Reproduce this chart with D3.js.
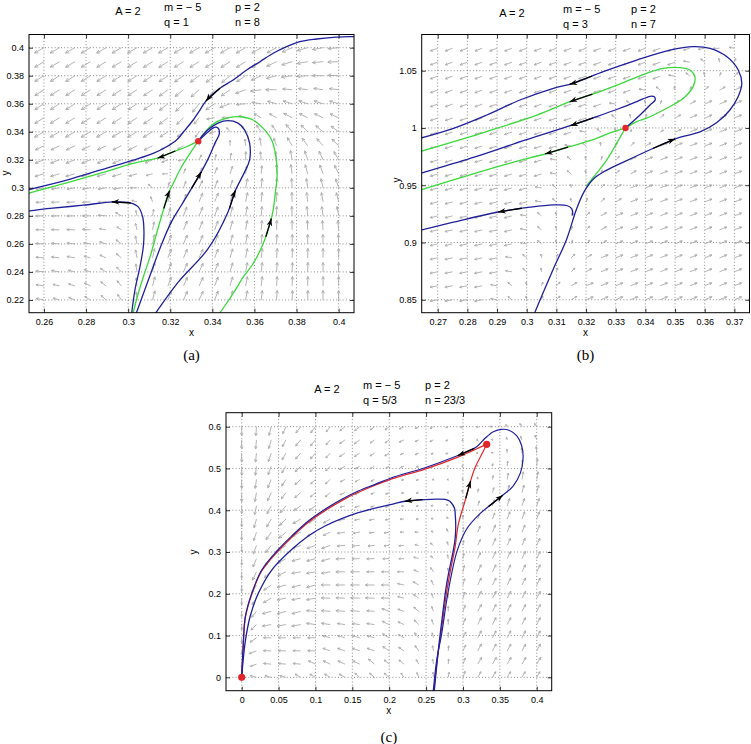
<!DOCTYPE html>
<html>
<head>
<meta charset="utf-8">
<script src="https://cdn.jsdelivr.net/npm/d3@7"></script>
<style>
body { margin: 0; background: #fff; }
svg { display: block; }
text { font-family: "Liberation Sans", Arial, sans-serif; }
</style>
</head>
<body>
<svg id="fig" width="751" height="744"></svg>
<script>
// ---------- panel (a) ----------
var aTitle = ["A = 2", "m = \u2212 5", "q = 1", "p = 2", "n = 8"];
var aXTicks = [0.26, 0.28, 0.3, 0.32, 0.34, 0.36, 0.38, 0.4];
var aYTicks = [0.22, 0.24, 0.26, 0.28, 0.3, 0.32, 0.34, 0.36, 0.38, 0.4];
var aGridX = [0.26,0.2674,0.2747,0.2821,0.2895,0.2968,0.3042,0.3116,0.3189,0.3263,0.3337,0.3411,0.3484,0.3558,0.3632,0.3705,0.3779,0.3853,0.3926,0.4];
var aGridY = [0.40,0.39,0.38,0.37,0.36,0.35,0.34,0.33,0.32,0.31,0.30,0.29,0.28,0.27,0.26,0.25,0.24,0.23,0.22];
// direction of the gray field arrows (degrees), rows top to bottom
var aAng = [
	[210,210,210,210,210,210,210,210,210,210,210,210,210,210,210,208,204,196,190,185],
	[211,211,211,211,211,211,211,212,212,212,212,212,212,212,212,205,197,190,185,182],
	[212,212,212,212,212,212,212,213,214,215,217,218,220,214,205,195,188,183,180,178],
	[213,213,213,213,213,213,213,214,216,219,222,228,215,200,188,180,175,173,172,173],
	[213,213,213,213,213,213,214,215,218,224,232,215,200,185,172,165,163,162,163,164],
	[212,212,212,212,212,212,213,214,217,224,232,190,180,160,150,150,152,153,155,156],
	[210,210,210,210,210,210,210,211,213,218,235,200,130,120,125,125,130,135,140,143],
	[206,206,206,206,206,206,207,207,208,210,75,80,90,95,100,110,120,126,131,135],
	[201,201,201,201,201,202,202,203,203,190,65,75,80,88,95,95,100,108,115,120],
	[196,196,196,196,196,196,196,195,180,70,63,68,72,80,85,90,98,105,110,115],
	[190,190,190,190,190,188,180,140,78,70,65,68,72,78,84,88,93,98,103,108],
	[184,184,184,184,184,182,165,110,78,72,68,68,72,78,84,88,92,96,100,104],
	[181,181,181,180,176,150,102,80,72,70,68,70,74,80,85,89,92,95,98,100],
	[179,179,178,176,170,146,103,79,71,68,68,70,74,80,85,88,90,92,94,95],
	[177,176,175,171,163,143,101,78,70,67,67,70,74,79,84,87,89,90,91,92],
	[175,173,170,165,155,140,100,78,70,67,66,69,74,79,83,86,88,89,90,90],
	[173,170,166,159,148,135,98,77,70,67,65,69,74,79,83,86,88,89,90,90],
	[171,167,162,154,142,130,96,76,70,66,65,69,74,79,83,86,88,89,90,90],
	[169,164,158,149,137,125,95,76,70,66,65,69,74,79,83,86,88,89,90,90]
];
// relative length of the field arrows, one digit per arrow
var aLen = [
	"88888888888888888888",
	"88888888888888888888",
	"88888888888888888888",
	"88888888888888887777",
	"88888888888887777777",
	"88888888876665667777",
	"88888888765445667777",
	"77777777653345667777",
	"77777776544456667777",
	"77777765445566677777",
	"66666654456667777777",
	"66666544567777777777",
	"66666545677777777777",
	"66665456777777777777",
	"66655567777777777777",
	"66655567777777777777",
	"66555567777777777777",
	"65555567777777777777",
	"65555567777777777777"
];
var aBlueS = [[0.409,0.408],[0.4069,0.4079],[0.3974,0.4074],[0.3895,0.4062],[0.3816,0.4043],[0.3753,0.4007],[0.3689,0.396],[0.3626,0.39],[0.3563,0.3841],[0.3499,0.3769],[0.3436,0.371],[0.3373,0.3626],[0.3341,0.3555],[0.3309,0.3484],[0.327,0.3412],[0.323,0.3341],[0.3183,0.3293],[0.3119,0.3246],[0.3024,0.3198],[0.2866,0.3126],[0.2708,0.3055],[0.2533,0.2989],[0.25,0.2977]];
var aGreenLeft = [[0.3333,0.3333],[0.3278,0.3293],[0.3214,0.3257],[0.3151,0.3217],[0.3024,0.3174],[0.2866,0.3103],[0.2708,0.3036],[0.2533,0.2964],[0.25,0.295]];
var aGreenMid = [[0.3018,0.205],[0.3024,0.2107],[0.3048,0.2246],[0.3072,0.2364],[0.3104,0.2507],[0.3135,0.2674],[0.3167,0.2841],[0.3191,0.296],[0.3214,0.3031],[0.3254,0.315],[0.3294,0.3246],[0.3333,0.3333]];
var aGreenOuter = [[0.341,0.205],[0.3436,0.2107],[0.3499,0.2246],[0.3547,0.2364],[0.3594,0.246],[0.3642,0.2603],[0.3674,0.2746],[0.3689,0.2841],[0.3699,0.296],[0.3708,0.3103],[0.3702,0.3221],[0.3682,0.3341],[0.3642,0.3424],[0.3594,0.3484],[0.3531,0.3507],[0.3484,0.3503],[0.342,0.3471],[0.3373,0.3412],[0.3333,0.3333]];
var aBlueHook = [[0.3013,0.205],[0.3017,0.2107],[0.3032,0.2269],[0.3056,0.2436],[0.3072,0.2579],[0.3075,0.2698],[0.3069,0.2793],[0.3048,0.2864],[0.3009,0.2893],[0.2929,0.29],[0.2787,0.2876],[0.2629,0.2853],[0.2533,0.2836],[0.25,0.283]];
var aBlueInner = [[0.3025,0.205],[0.3039,0.2107],[0.311,0.24],[0.3157,0.259],[0.3205,0.2755],[0.3252,0.2874],[0.3347,0.3112],[0.3381,0.321],[0.3412,0.3317],[0.3433,0.3385],[0.3428,0.3425],[0.341,0.3432],[0.3385,0.3405],[0.3357,0.3368],[0.3333,0.3333]];
var aBlueMid = [[0.3105,0.205],[0.3133,0.2112],[0.3237,0.2326],[0.3379,0.2564],[0.3474,0.2826],[0.3506,0.2969],[0.3553,0.3112],[0.3577,0.32],[0.3577,0.3319],[0.3553,0.3414],[0.3522,0.3462],[0.3474,0.3479],[0.3427,0.3462],[0.3379,0.3414],[0.334,0.3348],[0.3333,0.3333]];
var aEquilibria = [[0.3333,0.3333]];

// ---------- panel (b) ----------
var bTitle = ["A = 2", "m = \u2212 5", "q = 3", "p = 2", "n = 7"];
var bXTicks = [0.27, 0.28, 0.29, 0.3, 0.31, 0.32, 0.33, 0.34, 0.35, 0.36, 0.37];
var bYTicks = [0.85, 0.9, 0.95, 1, 1.05];
var bGridX = [0.27,0.275,0.28,0.285,0.29,0.295,0.3,0.305,0.31,0.315,0.32,0.325,0.33,0.335,0.34,0.345,0.35,0.355,0.36,0.365,0.37];
var bGridY = [1.0696,1.0574,1.0452,1.033,1.0208,1.0086,0.9964,0.9842,0.972,0.9598,0.9476,0.9354,0.9232,0.911,0.8988,0.8866,0.8744,0.8622,0.85];
var bAng = [
	[201,201,201,201,201,201,201,201,201,201,201,201,201,201,201,201,201,196,190,182,170],
	[200,200,200,200,200,200,200,200,200,200,200,200,200,200,200,200,200,170,140,100,70],
	[200,200,200,200,200,200,200,200,200,200,200,200,200,200,200,200,170,140,100,70,45],
	[199,199,199,199,199,199,199,199,199,199,199,199,199,199,170,140,100,70,45,30,25],
	[199,199,199,199,199,199,199,199,199,199,199,199,170,140,100,70,45,30,25,25,25],
	[198,198,198,198,198,198,198,198,198,198,198,170,140,100,70,45,30,24,24,24,24],
	[198,198,198,198,198,198,198,198,198,198,170,140,100,70,45,30,22,22,22,22,22],
	[197,197,197,197,197,197,197,197,197,170,140,100,70,45,30,22,22,22,22,22,22],
	[196,196,196,196,196,196,196,196,170,140,100,70,45,30,22,22,22,22,22,22,22],
	[196,196,196,196,196,196,196,196,170,140,100,70,45,30,22,22,22,22,22,22,22],
	[195,195,195,195,195,195,195,170,140,100,70,45,30,22,22,22,22,22,22,22,22],
	[194,194,194,194,194,194,194,170,140,100,70,45,30,22,22,22,22,22,22,22,22],
	[194,194,194,194,194,194,170,140,100,70,45,30,22,22,22,22,22,22,22,22,22],
	[193,193,193,193,193,193,170,140,100,70,45,30,22,22,22,22,22,22,22,22,22],
	[193,193,193,193,193,193,170,140,100,70,45,30,22,22,22,22,22,22,22,22,22],
	[192,192,192,192,192,170,140,100,70,45,30,22,22,22,22,22,22,22,22,22,22],
	[191,191,191,191,191,170,140,100,70,45,30,22,22,22,22,22,22,22,22,22,22],
	[191,191,191,191,170,140,100,70,45,30,22,22,22,22,22,22,22,22,22,22,22],
	[190,190,190,190,170,140,100,70,45,30,22,22,22,22,22,22,22,22,22,22,22]
];
var bLen = [
	"666666666666666665554",
	"666666666666666665433",
	"666666666666666654334",
	"666666666666665433456",
	"666666666666543345666",
	"666666666665433456666",
	"666666666654322356666",
	"666666666543345666666",
	"666666665433456666666",
	"666666665433456666666",
	"666666654334566666666",
	"666666654334566666666",
	"666666543345666666666",
	"666666543345666666666",
	"666666543345666666666",
	"666665433456666666666",
	"666665433456666666666",
	"666654334566666666666",
	"666654334566666666666"
];
var bBlueOuter = [[0.3015,0.83],[0.3028,0.8392],[0.3056,0.8566],[0.309,0.877],[0.3135,0.9031],[0.3168,0.9293],[0.3195,0.945],[0.3225,0.9555],[0.3265,0.9625],[0.3337,0.9715],[0.3427,0.9823],[0.3506,0.991],[0.3584,0.9965],[0.364,1.0045],[0.3685,1.0157],[0.3713,1.0274],[0.3725,1.039],[0.3713,1.0506],[0.3674,1.0623],[0.3618,1.0695],[0.3562,1.071],[0.3483,1.068],[0.3371,1.0593],[0.3258,1.0492],[0.3157,1.039],[0.309,1.0346],[0.2977,1.0244],[0.2865,1.0113],[0.2753,0.9997],[0.264,0.991]];
var bGreenUpper = [[0.3333,1.0],[0.3371,1.0056],[0.3404,1.0085],[0.3472,1.0172],[0.3528,1.0259],[0.3561,1.0361],[0.3567,1.0449],[0.355,1.0506],[0.3517,1.0527],[0.346,1.0521],[0.3404,1.0477],[0.3348,1.0419],[0.3247,1.0318],[0.3146,1.023],[0.3034,1.0113],[0.2865,0.9969],[0.264,0.9794]];
var bBlueInner = [[0.3333,1.0],[0.3382,1.0113],[0.3416,1.0201],[0.3433,1.0244],[0.343,1.0272],[0.3416,1.0276],[0.3371,1.023],[0.3314,1.0172],[0.3236,1.0099],[0.3152,1.0024],[0.2994,0.9893],[0.2826,0.9747],[0.2646,0.9607],[0.262,0.9587]];
var bGreenLower = [[0.3333,1.0],[0.3275,0.9951],[0.3219,0.9893],[0.314,0.9834],[0.3067,0.9777],[0.2938,0.9689],[0.2803,0.9587],[0.2646,0.9462],[0.262,0.944]];
var bGreenDown = [[0.3333,1.0],[0.3303,0.9866],[0.327,0.9721],[0.3236,0.9605],[0.3202,0.9497]];
var bBlueHook = [[0.3155,0.9236],[0.3152,0.9293],[0.3135,0.9323],[0.309,0.9328],[0.3011,0.9308],[0.2899,0.9264],[0.2753,0.9177],[0.264,0.9105],[0.262,0.9093]];
var bEquilibria = [[0.3333,1.0]];

// ---------- panel (c) ----------
var cTitle = ["A = 2", "m = \u2212 5", "q = 5/3", "p = 2", "n = 23/3"];
var cXTicks = [0, 0.05, 0.1, 0.15, 0.2, 0.25, 0.3, 0.35, 0.4];
var cYTicks = [0, 0.1, 0.2, 0.3, 0.4, 0.5, 0.6];
var cGridX = [0,0.02,0.04,0.06,0.08,0.1,0.12,0.14,0.16,0.18,0.2,0.22,0.24,0.26,0.28,0.3,0.32,0.34,0.36,0.38,0.4];
var cGridY = [0.6,0.5684,0.5368,0.5053,0.4737,0.4421,0.4105,0.3789,0.3474,0.3158,0.2842,0.2526,0.2211,0.1895,0.1579,0.1263,0.0947,0.0632,0.0316,0];
var cAng = [
	[270,266,256,245,232,232,232,218,218,218,218,207,207,207,200,200,195,175,125,125,125],
	[270,265,254,242,230,230,230,216,216,216,216,205,205,205,198,198,190,160,110,110,110],
	[270,264,252,240,228,228,228,213,213,213,213,203,203,203,195,195,180,130,95,95,95],
	[270,263,250,238,225,225,225,210,210,210,210,200,200,200,192,170,110,85,85,85,85],
	[270,262,248,236,222,222,222,207,207,207,207,197,197,197,185,140,95,80,80,80,80],
	[270,260,246,233,220,220,220,202,202,202,202,192,192,192,170,110,80,75,75,75,75],
	[270,258,243,230,215,215,215,197,197,197,197,187,187,175,140,95,72,72,72,72,72],
	[270,255,240,225,210,210,210,192,192,192,192,182,182,165,125,90,70,70,70,70,70],
	[270,252,236,220,205,205,205,188,188,188,188,178,178,155,115,85,68,68,68,68,68],
	[270,250,232,215,200,200,200,185,185,185,185,185,170,145,105,82,66,66,66,66,66],
	[270,248,228,210,195,195,195,182,182,182,182,182,165,135,100,80,65,65,65,65,65],
	[270,245,220,205,190,190,190,180,180,180,180,180,160,125,98,78,64,64,64,64,64],
	[270,240,215,195,195,195,180,180,180,180,180,168,150,115,95,75,63,63,63,63,63],
	[270,235,210,190,190,190,178,178,178,178,178,165,145,112,92,72,62,62,62,62,62],
	[270,230,195,195,195,175,175,175,175,175,160,160,140,110,90,70,62,62,62,62,62],
	[270,225,190,190,190,172,172,172,172,172,155,155,135,108,90,68,63,63,63,63,63],
	[270,215,180,180,180,180,165,165,165,165,150,150,130,105,88,63,63,63,63,63,63],
	[270,200,178,178,178,178,160,160,160,160,145,145,125,100,85,65,62,62,62,62,62],
	[270,200,175,175,175,155,155,155,155,140,140,140,120,100,85,70,60,60,60,60,60],
	[90,165,165,165,150,150,150,150,140,140,140,125,110,95,80,70,60,60,60,60,60]
];
var cLen = [
	"777666555444332212233",
	"777666555444332111234",
	"777666555443322111345",
	"777666554433221112456",
	"777665544332211123566",
	"777665544332221234666",
	"677766544332222345666",
	"677776654433222345666",
	"677777665443323456666",
	"577777766544333456666",
	"577777776654433456666",
	"577777777665443566666",
	"577777777765544566666",
	"567777777765544566666",
	"467777777665544566666",
	"467777766665544566666",
	"466666666665544566666",
	"366666666665544566666",
	"356666666655444566666",
	"055555555554444555555"
];
var cBlueOuter = [[0.2592,-0.04],[0.2598,-0.0304],[0.2644,0.0414],[0.2712,0.1053],[0.278,0.1851],[0.2847,0.249],[0.2925,0.305],[0.305,0.355],[0.322,0.39],[0.3412,0.418],[0.3525,0.434],[0.368,0.458],[0.378,0.49],[0.3815,0.525],[0.3795,0.555],[0.373,0.578],[0.3625,0.5915],[0.3525,0.5937],[0.3412,0.588],[0.3299,0.5722],[0.3187,0.552],[0.3051,0.5401],[0.2915,0.5298],[0.2485,0.5018],[0.2034,0.4779],[0.1808,0.462],[0.1581,0.446],[0.1356,0.4261],[0.113,0.4022],[0.0903,0.3742],[0.0678,0.3383],[0.048,0.303],[0.0271,0.2569],[0.0136,0.2011],[0.0049,0.1451],[0.0022,0.0814],[0,0]];
var cBlueHook = [[0.2605,-0.04],[0.2612,-0.03],[0.2666,0.0654],[0.272,0.145],[0.278,0.225],[0.287,0.305],[0.2892,0.33],[0.2902,0.3582],[0.2895,0.39],[0.2883,0.406],[0.2801,0.4237],[0.2576,0.4261],[0.2237,0.4221],[0.2034,0.4142],[0.1581,0.3941],[0.113,0.3622],[0.0903,0.3383],[0.0655,0.3024],[0.0407,0.2569],[0.0225,0.2011],[0.0113,0.1451],[0.0045,0.0814],[0,0]];
var cRedDown = [[0.2605,-0.03],[0.265,0.04],[0.2712,0.12],[0.2775,0.2],[0.2835,0.26],[0.2892,0.3103],[0.2937,0.3663],[0.3028,0.4221],[0.3096,0.4659],[0.3163,0.5018],[0.3254,0.5339],[0.3322,0.5578]];
var cRedTop = [[0.3322,0.5578],[0.3187,0.5472],[0.3051,0.5365],[0.2915,0.5262],[0.2485,0.4985],[0.2034,0.475],[0.1581,0.443],[0.1356,0.423],[0.113,0.399],[0.0903,0.371],[0.0678,0.335],[0.048,0.3],[0.0271,0.2545],[0.0136,0.199],[0.0049,0.143],[0.0022,0.08],[0,0]];
var cEquilibria = [[0.3322,0.5578],[0,0]];

var BLUE = "#20209c", GREEN = "#3cd83c", RED = "#e3262a";
var svg = d3.select("#fig");
svg.append("rect").attr("width", 751).attr("height", 744).attr("fill", "#fff");
var defs = svg.append("defs");

function drawPanel(p) {
	var L = p.box[0], R = p.box[1], T = p.box[2], B = p.box[3];
	var x = d3.scaleLinear().domain(p.xDom).range([L, R]);
	var y = d3.scaleLinear().domain(p.yDom).range([B, T]);
	var g = svg.append("g");
	var cid = "clip" + p.id;
	defs.append("clipPath").attr("id", cid).append("rect")
		.attr("x", L).attr("y", T).attr("width", R - L).attr("height", B - T);

	// dotted grid
	var grid = g.append("g").attr("stroke", "#6e6e6e").attr("stroke-width", 0.8).attr("stroke-dasharray", "1,2.2");
	grid.selectAll(".gx").data(p.xTicks).join("line").attr("class", "gx")
		.attr("x1", function(d) { return x(d); }).attr("x2", function(d) { return x(d); })
		.attr("y1", T).attr("y2", B);
	grid.selectAll(".gy").data(p.yTicks).join("line").attr("class", "gy")
		.attr("y1", function(d) { return y(d); }).attr("y2", function(d) { return y(d); })
		.attr("x1", L).attr("x2", R);

	// gray direction field
	var q = g.append("g").attr("stroke", "#acacac").attr("stroke-width", 0.9).attr("fill", "none");
	p.field.ang.forEach(function(row, i) {
		row.forEach(function(a, j) {
			var len = +(p.field.len[i].charAt(j) || 6) * p.field.k;
			if (len < 0.5) return;
			var x0 = x(p.field.gx[j]), y0 = y(p.field.gy[i]);
			var r = a * Math.PI / 180;
			var x1 = x0 + len * Math.cos(r), y1 = y0 - len * Math.sin(r);
			var h = Math.max(2, len * 0.34), s = 0.45;
			q.append("path").attr("d",
				"M" + x0 + "," + y0 + "L" + x1 + "," + y1 +
				"M" + (x1 - h * Math.cos(r - s)) + "," + (y1 + h * Math.sin(r - s)) +
				"L" + x1 + "," + y1 +
				"L" + (x1 - h * Math.cos(r + s)) + "," + (y1 + h * Math.sin(r + s)));
		});
	});

	// trajectories
	var line = d3.line().x(function(d) { return x(d[0]); }).y(function(d) { return y(d[1]); })
		.curve(d3.curveCatmullRom.alpha(0.5));
	var cg = g.append("g").attr("clip-path", "url(#" + cid + ")").attr("fill", "none");
	var nodes = {};
	p.curves.forEach(function(c) {
		nodes[c.name] = cg.append("path").datum(c.pts).attr("d", line)
			.attr("stroke", c.color).attr("stroke-width", c.w || 1.3).node();
	});

	// black arrows on the trajectories
	var ag = g.append("g");
	p.arrows.forEach(function(a) {
		var node = nodes[a.c], total = node.getTotalLength();
		var hx = x(a.at[0]), hy = y(a.at[1]), best = 0, bd = 1e9;
		for (var s = 0; s <= total; s += 0.5) {
			var pt = node.getPointAtLength(s);
			var dd = (pt.x - hx) * (pt.x - hx) + (pt.y - hy) * (pt.y - hy);
			if (dd < bd) { bd = dd; best = s; }
		}
		var hp = node.getPointAtLength(best);
		var tp = node.getPointAtLength(Math.max(0, best - p.arrowLen));
		var bp = node.getPointAtLength(Math.max(0, best - 4));
		ag.append("line").attr("x1", tp.x).attr("y1", tp.y).attr("x2", hp.x).attr("y2", hp.y)
			.attr("stroke", "#000").attr("stroke-width", 1.3);
		var ang = Math.atan2(hp.y - bp.y, hp.x - bp.x), hl = 7.5, hw = 2.8;
		var cx = Math.cos(ang), sy = Math.sin(ang);
		ag.append("path").attr("fill", "#000").attr("d",
			"M" + hp.x + "," + hp.y +
			"L" + (hp.x - hl * cx - hw * sy) + "," + (hp.y - hl * sy + hw * cx) +
			"L" + (hp.x - hl * 0.7 * cx) + "," + (hp.y - hl * 0.7 * sy) +
			"L" + (hp.x - hl * cx + hw * sy) + "," + (hp.y - hl * sy - hw * cx) + "Z");
	});

	// equilibrium points
	g.append("g").selectAll("circle").data(p.dots).join("circle")
		.attr("cx", function(d) { return x(d[0]); }).attr("cy", function(d) { return y(d[1]); })
		.attr("r", p.dotR).attr("fill", RED);

	// frame and axes (ticks inside, on all four sides)
	g.append("rect").attr("x", L).attr("y", T).attr("width", R - L).attr("height", B - T)
		.attr("fill", "none").attr("stroke", "#000").attr("stroke-width", 1);
	function styleAxis(sel) {
		sel.select(".domain").remove();
		sel.selectAll("line").attr("stroke", "#000").attr("stroke-width", 0.8);
		sel.selectAll("text").attr("font-size", 9).attr("fill", "#000");
	}
	var fmt = function(d) { return String(d); };
	g.append("g").attr("transform", "translate(0," + B + ")")
		.call(d3.axisBottom(x).tickValues(p.xTicks).tickFormat(fmt).tickSizeInner(-4).tickSizeOuter(0).tickPadding(5.5))
		.call(styleAxis);
	g.append("g").attr("transform", "translate(0," + T + ")")
		.call(d3.axisTop(x).tickValues(p.xTicks).tickFormat("").tickSizeInner(-4).tickSizeOuter(0))
		.call(styleAxis);
	g.append("g").attr("transform", "translate(" + L + ",0)")
		.call(d3.axisLeft(y).tickValues(p.yTicks).tickFormat(fmt).tickSizeInner(-4).tickSizeOuter(0).tickPadding(5))
		.call(styleAxis);
	g.append("g").attr("transform", "translate(" + R + ",0)")
		.call(d3.axisRight(y).tickValues(p.yTicks).tickFormat("").tickSizeInner(-4).tickSizeOuter(0))
		.call(styleAxis);

	// axis names
	g.append("text").attr("x", (L + R) / 2).attr("y", B + 23).attr("text-anchor", "middle")
		.attr("font-size", 10).text("x");
	g.append("text").attr("transform", "translate(" + p.yLab[0] + "," + p.yLab[1] + ") rotate(-90)")
		.attr("text-anchor", "middle").attr("font-size", 10).text("y");

	// parameter titles
	var t = p.title, tp2 = p.titlePos;
	g.append("text").attr("x", tp2.a).attr("y", tp2.y0 + 4).attr("text-anchor", "middle").attr("font-size", 11).text(t[0]);
	g.append("text").attr("x", tp2.m).attr("y", tp2.y0).attr("font-size", 11).text(t[1]);
	g.append("text").attr("x", tp2.m).attr("y", tp2.y0 + 15).attr("font-size", 11).text(t[2]);
	g.append("text").attr("x", tp2.p).attr("y", tp2.y0).attr("font-size", 11).text(t[3]);
	g.append("text").attr("x", tp2.p).attr("y", tp2.y0 + 15).attr("font-size", 11).text(t[4]);

	// caption
	g.append("text").attr("x", (L + R) / 2).attr("y", p.capY).attr("text-anchor", "middle")
		.style("font-family", "'Liberation Serif', 'DejaVu Serif', serif").attr("font-size", 15).text(p.caption);
}

drawPanel({
	id: "a", box: [29, 354, 34.5, 312.7], xDom: [0.2529, 0.4073], yDom: [0.2109, 0.4094],
	xTicks: aXTicks, yTicks: aYTicks,
	field: { gx: aGridX, gy: aGridY, ang: aAng, len: aLen, k: 1.35 },
	curves: [
		{ name: "gl", pts: aGreenLeft, color: GREEN },
		{ name: "gm", pts: aGreenMid, color: GREEN },
		{ name: "go", pts: aGreenOuter, color: GREEN },
		{ name: "bs", pts: aBlueS, color: BLUE },
		{ name: "bh", pts: aBlueHook, color: BLUE },
		{ name: "bi", pts: aBlueInner, color: BLUE },
		{ name: "bm", pts: aBlueMid, color: BLUE }
	],
	arrows: [
		{ c: "bs", at: [0.3373, 0.3614] }, { c: "gl", at: [0.3143, 0.3203] },
		{ c: "bh", at: [0.2922, 0.29] }, { c: "gm", at: [0.3197, 0.2981] },
		{ c: "bi", at: [0.3349, 0.3114] }, { c: "bm", at: [0.3509, 0.2981] },
		{ c: "go", at: [0.368, 0.2779] }
	],
	arrowLen: 19, dots: aEquilibria, dotR: 3.2,
	title: aTitle, titlePos: { a: 128, m: 164, p: 235, y0: 10.5 },
	yLab: [9, 173], capY: 360, caption: "(a)"
});

drawPanel({
	id: "b", box: [421.7, 749.5, 34.5, 312.7], xDom: [0.2646, 0.3751], yDom: [0.8387, 1.0816],
	xTicks: bXTicks, yTicks: bYTicks,
	field: { gx: bGridX, gy: bGridY, ang: bAng, len: bLen, k: 1.3 },
	curves: [
		{ name: "gd", pts: bGreenDown, color: GREEN },
		{ name: "gu", pts: bGreenUpper, color: GREEN },
		{ name: "gl", pts: bGreenLower, color: GREEN },
		{ name: "bo", pts: bBlueOuter, color: BLUE },
		{ name: "bi", pts: bBlueInner, color: BLUE },
		{ name: "bh", pts: bBlueHook, color: BLUE }
	],
	arrows: [
		{ c: "bo", at: [0.3146, 1.0367] }, { c: "gu", at: [0.3146, 1.0216] },
		{ c: "bi", at: [0.3146, 1.0026] }, { c: "gl", at: [0.3062, 0.9773] },
		{ c: "bo", at: [0.35, 0.991] }, { c: "bh", at: [0.2904, 0.9258] }
	],
	arrowLen: 24, dots: bEquilibria, dotR: 3.2,
	title: bTitle, titlePos: { a: 512, m: 563, p: 631, y0: 12.5 },
	yLab: [400, 180], capY: 360, caption: "(b)"
});

drawPanel({
	id: "c", box: [226, 551.7, 412.7, 690.7], xDom: [-0.0213, 0.4203], yDom: [-0.032, 0.6335],
	xTicks: cXTicks, yTicks: cYTicks,
	field: { gx: cGridX, gy: cGridY, ang: cAng, len: cLen, k: 1.3 },
	curves: [
		{ name: "rd", pts: cRedDown, color: RED, w: 1.2 },
		{ name: "rt", pts: cRedTop, color: RED, w: 1.3 },
		{ name: "bo", pts: cBlueOuter, color: BLUE, w: 1.2 },
		{ name: "bh", pts: cBlueHook, color: BLUE }
	],
	arrows: [
		{ c: "bo", at: [0.2937, 0.5257] }, { c: "bh", at: [0.2214, 0.4221] },
		{ c: "rd", at: [0.3096, 0.47] }, { c: "bo", at: [0.3547, 0.434] }
	],
	arrowLen: 18, dots: cEquilibria, dotR: 3.6,
	title: cTitle, titlePos: { a: 327, m: 363, p: 425, y0: 389 },
	yLab: [197, 552], capY: 742, caption: "(c)"
});
</script>
</body>
</html>
